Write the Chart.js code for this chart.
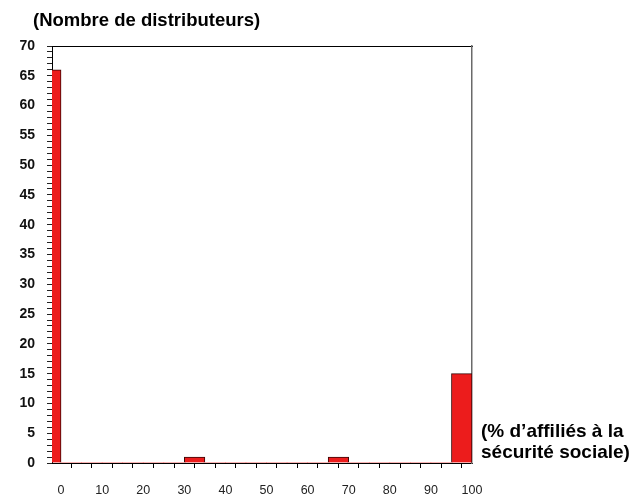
<!DOCTYPE html>
<html lang="fr">
<head>
<meta charset="utf-8">
<title>Nombre de distributeurs selon le % d'affiliés à la sécurité sociale</title>
<script src="https://cdn.jsdelivr.net/npm/chart.js@4.4.1/dist/chart.umd.min.js"></script>
<style>
  html, body { margin: 0; padding: 0; background: #ffffff; }
  #wrap { width: 643px; height: 498px; }
</style>
</head>
<body>
<div id="wrap"><canvas id="histo" width="643" height="498"></canvas></div>
<script>
// Histogram bins (upper edge of each 5-point bin, % of staff affiliated)
const binUpper = [0, 5, 10, 15, 20, 25, 30, 35, 40, 45, 50, 55, 60, 65, 70, 75, 80, 85, 90, 95, 100];
// Number of distributors in each bin
const distributorCounts = [66, 0, 0, 0, 0, 0, 0, 1, 0, 0, 0, 0, 0, 0, 1, 0, 0, 0, 0, 0, 15];
const binWidth = 5;

// Labelled tick values
const yTickLabels = [0, 5, 10, 15, 20, 25, 30, 35, 40, 45, 50, 55, 60, 65, 70];
const xTickLabels = [0, 10, 20, 30, 40, 50, 60, 70, 80, 90, 100];

const yTitle = '(Nombre de distributeurs)';
const xTitleLines = ['(% d\u2019affiliés à la', 'sécurité sociale)'];

const points = binUpper.map((u, i) => ({ x: u - binWidth / 2, y: distributorCounts[i] }));

const FONT = '"Liberation Sans", Arial, Helvetica, sans-serif';

const titles = {
  id: 'axisTitles',
  afterDraw(chart) {
    const c = chart.ctx;
    c.save();
    c.fillStyle = '#000';
    c.font = 'bold 18.5px ' + FONT;
    c.textAlign = 'left';
    c.textBaseline = 'middle';
    c.fillText(yTitle, 33, 21);
    c.font = 'bold 19px ' + FONT;
    c.textBaseline = 'alphabetic';
    const x0 = chart.chartArea.right + 9;
    c.fillText(xTitleLines[0], x0, 437);
    c.fillText(xTitleLines[1], x0, 458);
    c.restore();
  }
};

new Chart(document.getElementById('histo'), {
  type: 'bar',
  data: {
    datasets: [{
      data: points,
      backgroundColor: '#ec1c1c',
      borderColor: '#3a0606',
      borderWidth: ctx => (ctx.raw && ctx.raw.y > 0 ? 1 : 0),
      borderSkipped: 'bottom',
      categoryPercentage: 1,
      barPercentage: 1,
      clip: 0
    }]
  },
  options: {
    responsive: false,
    animation: false,
    events: [],
    layout: { padding: { top: 46, right: 171, left: 0, bottom: 0 } },
    plugins: { legend: { display: false }, tooltip: { enabled: false }, title: { display: false } },
    scales: {
      x: {
        type: 'linear',
        position: 'bottom',
        min: -2.2,
        max: 100,
        offset: false,
        afterFit: s => { s.height = 35; },
        border: { display: true, color: '#000', width: 1 },
        grid: { display: true, drawOnChartArea: false, drawTicks: true, tickLength: 5, color: '#000' },
        ticks: {
          stepSize: 5,
          includeBounds: false,
          autoSkip: false,
          maxRotation: 0,
          padding: 15,
          color: '#222',
          font: { family: FONT, size: 12.5 },
          callback: v => (xTickLabels.includes(v) ? String(v) : '')
        }
      },
      y: {
        type: 'linear',
        position: 'left',
        min: 0,
        max: 70,
        afterFit: s => { s.width = 52; },
        border: { display: true, color: '#000', width: 1 },
        grid: { display: true, drawOnChartArea: false, drawTicks: true, tickLength: 5, color: '#222' },
        ticks: {
          stepSize: 1,
          autoSkip: false,
          padding: 12,
          color: '#111',
          font: { family: FONT, size: 14, weight: 'bold' },
          callback: v => (yTickLabels.includes(v) ? String(v) : '')
        }
      },
      xTop: {
        type: 'linear',
        position: 'top',
        afterFit: s => { s.height = 0; },
        border: { display: true, color: '#000', width: 1 },
        grid: { display: false },
        ticks: { display: false }
      },
      yRight: {
        type: 'linear',
        position: 'right',
        afterFit: s => { s.width = 0; },
        border: { display: true, color: '#6a6a6a', width: 1.5 },
        grid: { display: false },
        ticks: { display: false }
      }
    }
  },
  plugins: [titles]
});
</script>
</body>
</html>
